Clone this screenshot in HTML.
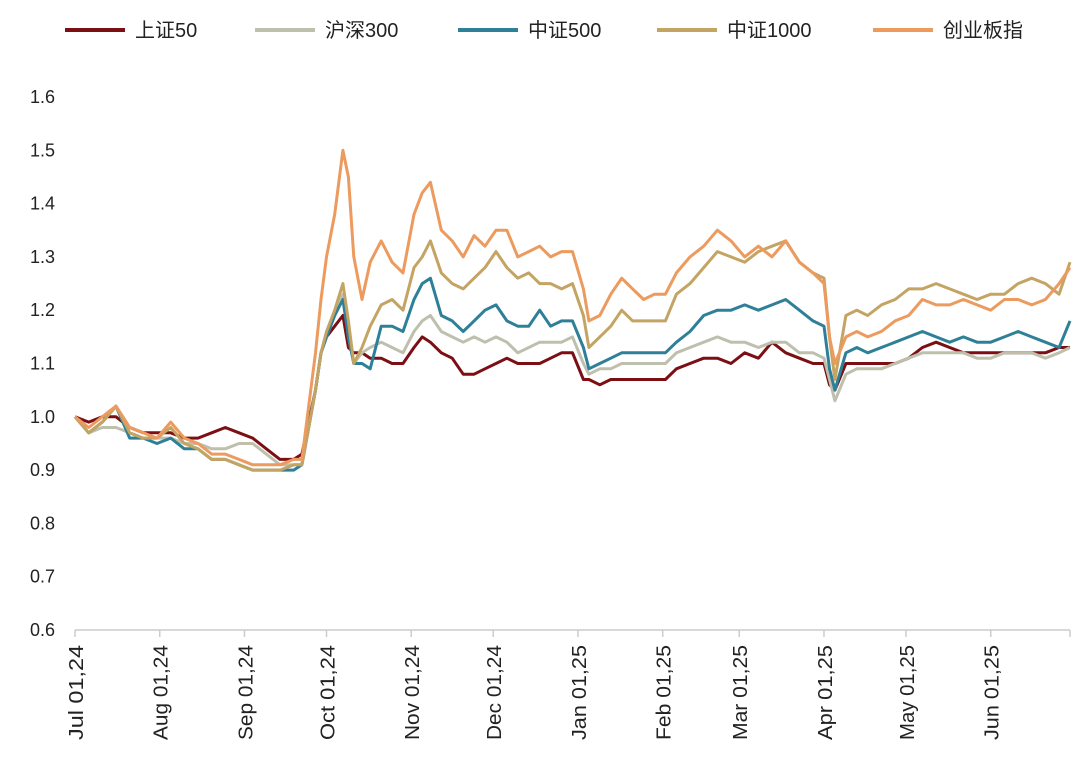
<!DOCTYPE html>
<html><head><meta charset="utf-8"><style>
body{margin:0;background:#fff;}
svg{display:block;font-family:"Liberation Sans","Noto Sans CJK SC",sans-serif;}
</style></head><body>
<svg id="chart" width="1083" height="762"></svg>
<script>
const days=[0,5,10,15,20,25,30,35,40,45,50,55,60,65,70,75,80,83,88,90,92,95,98,100,102,105,108,112,116,120,124,127,130,134,138,142,146,150,154,158,162,166,170,174,178,182,186,188,192,196,200,204,208,212,216,220,225,230,235,240,245,250,255,260,265,270,274,276,278,282,286,290,295,300,305,310,315,320,325,330,335,340,345,350,355,360,364];
const sse50=[1.0,0.99,1.0,1.0,0.98,0.97,0.97,0.97,0.96,0.96,0.97,0.98,0.97,0.96,0.94,0.92,0.92,0.93,1.05,1.12,1.15,1.17,1.19,1.13,1.12,1.12,1.11,1.11,1.10,1.10,1.13,1.15,1.14,1.12,1.11,1.08,1.08,1.09,1.10,1.11,1.10,1.10,1.10,1.11,1.12,1.12,1.07,1.07,1.06,1.07,1.07,1.07,1.07,1.07,1.07,1.09,1.10,1.11,1.11,1.10,1.12,1.11,1.14,1.12,1.11,1.10,1.10,1.06,1.05,1.10,1.10,1.10,1.10,1.10,1.11,1.13,1.14,1.13,1.12,1.12,1.12,1.12,1.12,1.12,1.12,1.13,1.13];
const hs300=[1.0,0.97,0.98,0.98,0.97,0.96,0.96,0.96,0.95,0.95,0.94,0.94,0.95,0.95,0.93,0.91,0.91,0.91,1.05,1.12,1.15,1.19,1.23,1.15,1.10,1.12,1.13,1.14,1.13,1.12,1.16,1.18,1.19,1.16,1.15,1.14,1.15,1.14,1.15,1.14,1.12,1.13,1.14,1.14,1.14,1.15,1.10,1.08,1.09,1.09,1.10,1.10,1.10,1.10,1.10,1.12,1.13,1.14,1.15,1.14,1.14,1.13,1.14,1.14,1.12,1.12,1.11,1.07,1.03,1.08,1.09,1.09,1.09,1.10,1.11,1.12,1.12,1.12,1.12,1.11,1.11,1.12,1.12,1.12,1.11,1.12,1.13];
const csi500=[1.0,0.97,0.99,1.02,0.96,0.96,0.95,0.96,0.94,0.94,0.92,0.92,0.91,0.90,0.90,0.90,0.90,0.91,1.05,1.12,1.15,1.19,1.22,1.15,1.10,1.10,1.09,1.17,1.17,1.16,1.22,1.25,1.26,1.19,1.18,1.16,1.18,1.20,1.21,1.18,1.17,1.17,1.20,1.17,1.18,1.18,1.13,1.09,1.10,1.11,1.12,1.12,1.12,1.12,1.12,1.14,1.16,1.19,1.20,1.20,1.21,1.20,1.21,1.22,1.20,1.18,1.17,1.09,1.05,1.12,1.13,1.12,1.13,1.14,1.15,1.16,1.15,1.14,1.15,1.14,1.14,1.15,1.16,1.15,1.14,1.13,1.18];
const csi1000=[1.0,0.97,0.99,1.02,0.97,0.96,0.96,0.98,0.95,0.94,0.92,0.92,0.91,0.90,0.90,0.90,0.91,0.91,1.05,1.12,1.16,1.20,1.25,1.18,1.10,1.13,1.17,1.21,1.22,1.20,1.28,1.30,1.33,1.27,1.25,1.24,1.26,1.28,1.31,1.28,1.26,1.27,1.25,1.25,1.24,1.25,1.19,1.13,1.15,1.17,1.20,1.18,1.18,1.18,1.18,1.23,1.25,1.28,1.31,1.30,1.29,1.31,1.32,1.33,1.29,1.27,1.26,1.15,1.07,1.19,1.20,1.19,1.21,1.22,1.24,1.24,1.25,1.24,1.23,1.22,1.23,1.23,1.25,1.26,1.25,1.23,1.29];
const chinext=[1.0,0.98,1.0,1.02,0.98,0.97,0.96,0.99,0.96,0.95,0.93,0.93,0.92,0.91,0.91,0.91,0.92,0.92,1.12,1.22,1.30,1.38,1.50,1.45,1.30,1.22,1.29,1.33,1.29,1.27,1.38,1.42,1.44,1.35,1.33,1.30,1.34,1.32,1.35,1.35,1.30,1.31,1.32,1.30,1.31,1.31,1.24,1.18,1.19,1.23,1.26,1.24,1.22,1.23,1.23,1.27,1.30,1.32,1.35,1.33,1.30,1.32,1.30,1.33,1.29,1.27,1.25,1.15,1.10,1.15,1.16,1.15,1.16,1.18,1.19,1.22,1.21,1.21,1.22,1.21,1.20,1.22,1.22,1.21,1.22,1.25,1.28];
const seriesNames=["上证50","沪深300","中证500","中证1000","创业板指"];
const yTicks=[0.6,0.7,0.8,0.9,1.0,1.1,1.2,1.3,1.4,1.5,1.6];
const xTickLabels=["Jul 01,24","Aug 01,24","Sep 01,24","Oct 01,24","Nov 01,24","Dec 01,24","Jan 01,25","Feb 01,25","Mar 01,25","Apr 01,25","May 01,25","Jun 01,25"];
const xTickDays=[0,31,62,92,123,153,184,215,243,274,304,335];

const NS="http://www.w3.org/2000/svg";
const svg=document.getElementById('chart');
const colors=["#7B0F14","#BFBFAE","#2E8098","#C4A463","#EC9A5E"];
const x0=75,x1=1070,yTop=97,yBot=630;
const xs=d=>x0+d*(x1-x0)/364;
const ys=v=>yBot-(v-0.6)*(yBot-yTop)/1.0;
function mk(tag,attrs,parent){const e=document.createElementNS(NS,tag);for(const k in attrs)e.setAttribute(k,attrs[k]);(parent||svg).appendChild(e);return e;}

yTicks.forEach(v=>{
  const t=mk('text',{x:55,y:ys(v)+6,'text-anchor':'end','font-size':18,fill:'#222'});
  
  
  t.textContent=v.toFixed(1);
});
const ax=mk('line',{x1:x0,y1:yBot,x2:x1,y2:yBot,stroke:'#ccc','stroke-width':1.5});


xTickDays.concat([364]).forEach(d=>{
  const l=mk('line',{x1:xs(d),y1:yBot,x2:xs(d),y2:yBot+7,stroke:'#ccc','stroke-width':1.5});
  
  
});
xTickDays.forEach((d,i)=>{
  const px=xs(d)+8,py=645;
  const t=mk('text',{x:px,y:py,'text-anchor':'end','font-size':20,fill:'#222',textLength:95,lengthAdjust:'spacingAndGlyphs',transform:`rotate(-90 ${px} ${py})`});
  
  
  t.textContent=xTickLabels[i];
});
[sse50,hs300,csi500,csi1000,chinext].forEach((arr,i)=>{
  const pts=arr.map((v,j)=>xs(days[j]).toFixed(1)+','+ys(v).toFixed(1)).join(' ');
  const p=mk('polyline',{points:pts,fill:'none',stroke:colors[i],'stroke-width':3,'stroke-linejoin':'round'});
  
  
});
const legX=[65,255,458,657,873];
seriesNames.forEach((n,i)=>{
  const g=mk('g',{});
  
  
  mk('line',{x1:legX[i],y1:30,x2:legX[i]+60,y2:30,stroke:colors[i],'stroke-width':4},g);
  const t=mk('text',{x:legX[i]+70,y:37,'font-size':20,fill:'#222'},g);
  t.textContent=n;
});
</script>
</body></html>
